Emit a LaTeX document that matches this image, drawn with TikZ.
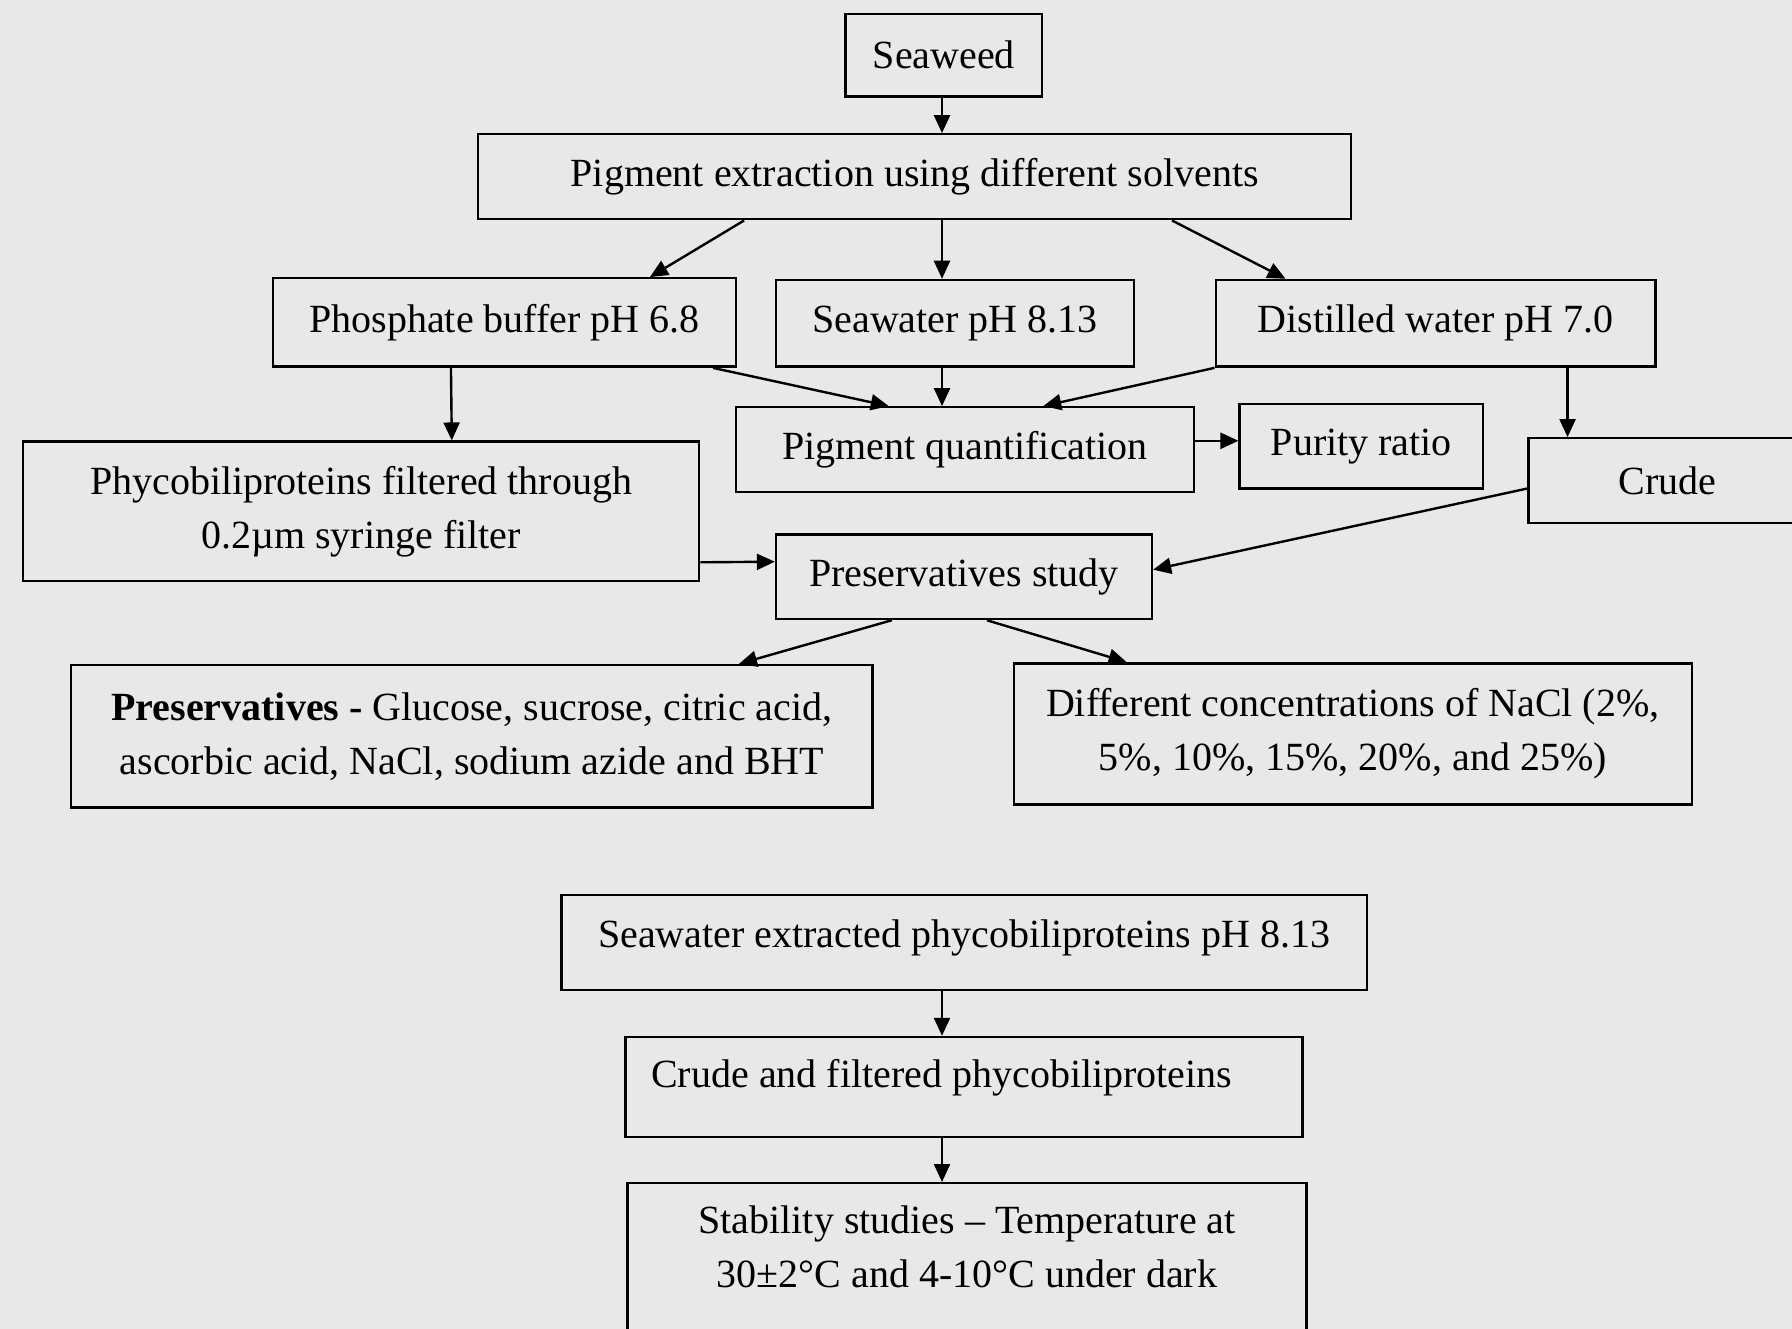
\documentclass[tikz,border=0pt]{standalone}
\usepackage{fontspec}
\setmainfont{Liberation Serif}
\usetikzlibrary{arrows.meta}
\definecolor{paper}{RGB}{232,232,232}

\tikzset{
    box/.style = {
        draw,
        black,
        line width=2.4pt,
        rectangle,
        align=center,
        inner sep=8pt,
        font=\fontsize{40}{54}\selectfont
    },
    flow/.style = {
        -{Triangle[length=18pt,width=16pt]},
        line width=2.4pt,
        black
    }
}

\begin{document}
\begin{tikzpicture}[x=1pt,y=-1pt]
    \fill[paper] (0,0) rectangle (1792,1329);
    \useasboundingbox (0,0) rectangle (1792,1329);

    % Draw all boxes
    \node[box, minimum width=196.6pt, minimum height=82.7pt] (seaweed) at (943.9,55.3) {Seaweed};
    \node[box, minimum width=872.9pt, minimum height=85pt] (extract) at (914.7,176.8) {Pigment extraction using different solvents};

    \node[box, minimum width=462.7pt, minimum height=88.4pt] (phosphate) at (504.5,322.5) {Phosphate buffer pH 6.8};
    \node[box, minimum width=357.7pt, minimum height=86.7pt] (seawater) at (955,323.3) {Seawater pH 8.13};
    \node[box, minimum width=439.7pt, minimum height=86.7pt] (distilled) at (1435.6,323.3) {Distilled water pH 7.0};

    \node[box, minimum width=458.1pt, minimum height=85pt] (quant) at (965,449.8) {Pigment quantification};
    \node[box, minimum width=243.5pt, minimum height=84.3pt] (purity) at (1361.4,446.2) {Purity ratio};
    \node[box, minimum width=278.4pt, minimum height=84.4pt] (crude) at (1667.8,480.5) {Crude};
    \node[box, minimum width=676.2pt, minimum height=139.3pt] (filtered) at (361.1,511.3) {Phycobiliproteins filtered through\\0.2µm syringe filter};

    \node[box, minimum width=375.9pt, minimum height=84.7pt] (study) at (964,576.7) {Preservatives study};
    \node[box, minimum width=801.4pt, minimum height=142.3pt] (preslist) at (471.9,736.2) {\textbf{Preservatives -} Glucose, sucrose, citric acid,\\ascorbic acid, NaCl, sodium azide and BHT};
    \node[box, minimum width=678pt, minimum height=141pt] (nacl) at (1352.8,733.8) {Different concentrations of NaCl (2\%,\\5\%, 10\%, 15\%, 20\%, and 25\%)};

    \node[box, minimum width=805.4pt, minimum height=95pt, text depth=17pt] (swextract) at (964.1,942.5) {Seawater extracted phycobiliproteins pH 8.13};
    \node[box, align=flush left, text width=625pt, inner xsep=26pt, minimum height=100pt, text depth=28pt] (crudefilt) at (963.8,1087) {Crude and filtered phycobiliproteins};
    \node[box, anchor=north, minimum width=679.2pt, inner ysep=23pt, text depth=110pt] (stability) at (967,1182) {Stability studies \textendash{} Temperature at\\30±2°C and 4-10°C under dark};

    % Draw arrows
    \coordinate (axis) at (942,0);
    \draw[flow] (seaweed.south -| axis) -- (extract.north -| axis);
    \draw[flow] ([xshift=267pt]extract.south west) -- ([xshift=378pt]phosphate.north west);
    \draw[flow] (extract.south -| axis) -- (seawater.north -| axis);
    \draw[flow] ([xshift=695pt]extract.south west) -- ([xshift=71pt]distilled.north west);
    %
    \draw[flow] ([xshift=179pt]phosphate.south west) -- ([xshift=430pt]filtered.north west);
    \draw[flow] ([xshift=-24pt]phosphate.south east) -- ([xshift=154pt]quant.north west);
    \draw[flow] (seawater.south -| axis) -- (quant.north -| axis);
    \draw[flow] (distilled.south west) -- ([xshift=-152pt]quant.north east);
    \draw[flow] ([yshift=9pt]quant.east) -- ([yshift=9pt]quant.east -| purity.west);
    \draw[flow] ([xshift=353pt]distilled.south west) -- ([xshift=353pt]distilled.south west |- crude.north);
    %
    \draw[flow] ([yshift=-51pt]filtered.east) -- ([yshift=15pt]study.west);
    \draw[flow] ([yshift=-8pt]crude.west) -- ([yshift=7pt]study.east);
    \draw[flow] ([xshift=117pt]study.south west) -- ([xshift=669pt]preslist.north west);
    \draw[flow] ([xshift=212pt]study.south west) -- ([xshift=114pt]nacl.north west);
    %
    \draw[flow] (swextract.south -| axis) -- (crudefilt.north -| axis);
    \draw[flow] (crudefilt.south -| axis) -- (stability.north -| axis);
\end{tikzpicture}
\end{document}
